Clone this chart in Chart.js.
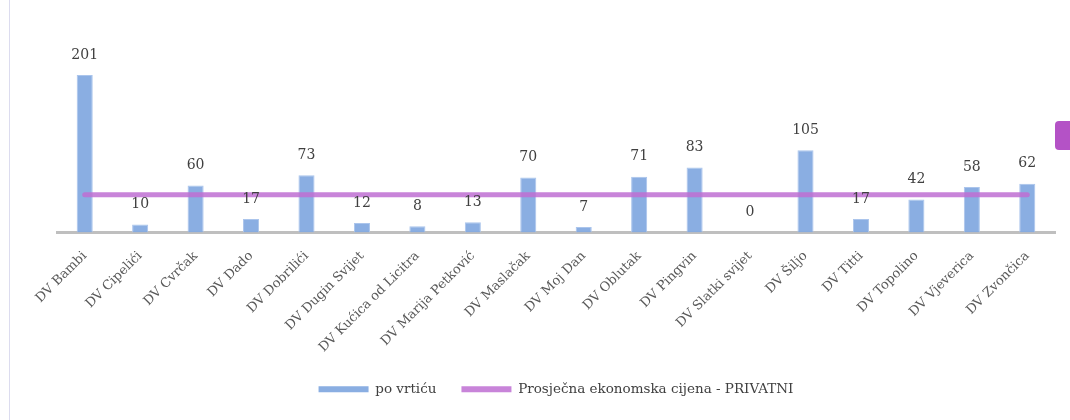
<!DOCTYPE html>
<html>
<head>
<meta charset="utf-8">
<script src="https://cdn.jsdelivr.net/npm/chart.js@4.4.1/dist/chart.umd.min.js"></script>
<style>
    html, body { margin: 0; padding: 0; background: #fff; }
    #wrap { position: relative; width: 1070px; height: 420px; }
    #edge { position: absolute; left: 9px; top: 0; width: 1px; height: 420px; background: #dcdcef; }
</style>
</head>
<body>
<div id="wrap">
    <canvas id="chart" width="1070" height="420"></canvas>
    <div id="edge"></div>
</div>
<script>
const categories = [
    'DV Bambi', 'DV Cipelići', 'DV Cvrčak', 'DV Dado', 'DV Dobrilići', 'DV Dugin Svijet',
    'DV Kućica od Licitra', 'DV Marija Petković', 'DV Maslačak', 'DV Moj Dan', 'DV Oblutak',
    'DV Pingvin', 'DV Slatki svijet', 'DV Šiljo', 'DV Titti', 'DV Topolino', 'DV Vjeverica', 'DV Zvončica'
];
const poVrticu = [201, 10, 60, 17, 73, 12, 8, 13, 70, 7, 71, 83, 0, 105, 17, 42, 58, 62];
const prosjecnaCijena = [48, 48, 48, 48, 48, 48, 48, 48, 48, 48, 48, 48, 48, 48, 48, 48, 48, 48];

const serif = "'DejaVu Serif', serif";

// values above the bars
const barLabels = {
    id: 'barLabels',
    afterDatasetsDraw(chart) {
        const ctx = chart.ctx;
        const meta = chart.getDatasetMeta(1);
        ctx.save();
        ctx.font = '14px ' + serif;
        ctx.fillStyle = '#404040';
        ctx.textAlign = 'center';
        ctx.textBaseline = 'middle';
        meta.data.forEach((bar, i) => {
            ctx.fillText(String(poVrticu[i]), bar.x, bar.y - 20);
        });
        ctx.restore();
    }
};

// clipped marker at the right edge
const edgeMark = {
    id: 'edgeMark',
    afterDraw(chart) {
        const ctx = chart.ctx;
        ctx.save();
        ctx.fillStyle = '#b452c6';
        ctx.beginPath();
        ctx.roundRect(1055, 121, 30, 29, 4);
        ctx.fill();
        ctx.restore();
    }
};

new Chart(document.getElementById('chart'), {
    data: {
        labels: categories,
        datasets: [{
            type: 'line',
            label: 'Prosječna ekonomska cijena - PRIVATNI',
            data: prosjecnaCijena,
            borderColor: 'rgba(190, 110, 210, 0.85)',
            backgroundColor: 'rgba(190, 110, 210, 0.85)',
            borderWidth: 5,
            borderCapStyle: 'round',
            pointRadius: 0,
            order: 0
        }, {
            type: 'bar',
            label: 'po vrtiću',
            data: poVrticu,
            backgroundColor: 'rgba(132, 170, 224, 0.95)',
            borderColor: '#abc5ec',
            borderWidth: 1,
            categoryPercentage: 1,
            barPercentage: 0.29,
            order: 1
        }]
    },
    options: {
        responsive: false,
        animation: false,
        layout: { padding: { top: 60, right: 15, left: 57, bottom: 14 } },
        plugins: {
            tooltip: { enabled: false },
            legend: {
                position: 'bottom',
                reverse: true,
                labels: {
                    font: { family: serif, size: 13.5 },
                    color: '#404040',
                    boxWidth: 50,
                    boxHeight: 6,
                    padding: 25,
                    generateLabels(chart) {
                        const items = Chart.defaults.plugins.legend.labels.generateLabels(chart);
                        items.forEach(it => {
                            it.lineWidth = 0;
                            it.strokeStyle = 'transparent';
                        });
                        return items;
                    }
                }
            }
        },
        scales: {
            x: {
                grid: { display: false, drawTicks: false },
                border: { color: '#bfbfbf', width: 3 },
                ticks: {
                    font: { family: serif, size: 13 },
                    color: '#595959',
                    maxRotation: 45,
                    minRotation: 45,
                    padding: 16
                },
                afterFit(scale) {
                    scale.height -= 14;
                }
            },
            y: {
                display: false,
                min: 0,
                max: 220
            }
        }
    },
    plugins: [barLabels, edgeMark]
});
</script>
</body>
</html>
